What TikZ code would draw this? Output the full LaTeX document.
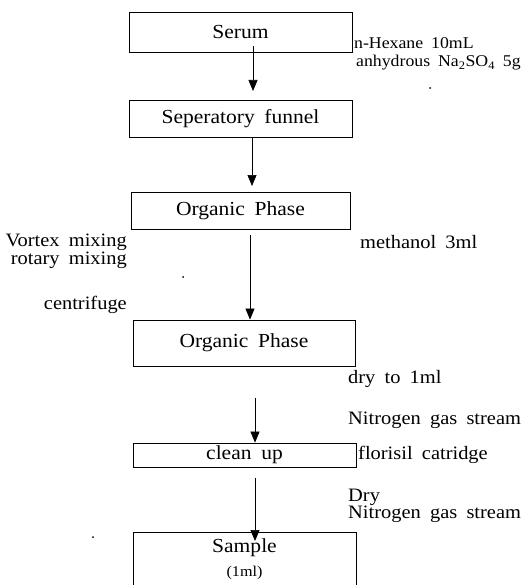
\documentclass[tikz,border=0pt]{standalone}
\usepackage{fontspec}
\setmainfont{Liberation Serif}[WordSpace=1.8,FakeStretch=1.08]
\usetikzlibrary{arrows.meta}
\begin{document}
\begin{tikzpicture}[x=1bp,y=-1bp,
  box/.style={draw, line width=0.8bp, inner sep=0, font=\fontsize{20}{22}\selectfont},
  lbl/.style={inner sep=0, font=\fontsize{19}{21}\selectfont},
  small/.style={lbl, font=\fontsize{16.5}{19}\selectfont},
  flow/.style={-{Triangle[length=11bp,width=9bp]}, line width=0.7bp},
  speck/.style={fill=black, inner sep=0, minimum size=2bp, circle}]
\useasboundingbox (0,0) rectangle (531,585);
\clip (0,0) rectangle (531,585);
% boxes
\node[box, minimum width=223bp, minimum height=40bp] (serum) at (240.5,32) {Serum};
\node[box, minimum width=223bp, minimum height=37bp] (sep) at (240.5,118.5) {Seperatory funnel};
\node[box, minimum width=219bp, minimum height=37bp] (op1) at (240.5,210.5) {Organic Phase};
\node[box, minimum width=222bp, minimum height=46bp] (op2) at (244,343) {Organic Phase};
\node[box, minimum width=223bp, minimum height=24bp] (clean) at (244.5,455) {clean up};
\node[box, minimum width=223bp, minimum height=76bp] (sample) at (244.5,570) {};
\node[lbl, font=\fontsize{20}{22}\selectfont] (sampletxt) at (244.5,548) {Sample};
\node[lbl, font=\fontsize{15}{17}\selectfont] (vol) at (244.5,573) {(1ml)};
% connectors
\coordinate (a1s) at (253,46);
\coordinate (a1e) at (253,91);
\coordinate (a2s) at (252,137);
\coordinate (a2e) at (252,186);
\coordinate (a3s) at (250,235);
\coordinate (a4s) at (255,398);
\coordinate (a5s) at (255,478);
\coordinate (a5e) at (255,541);
\draw[flow] (a1s) -- (a1e);
\draw[flow] (a2s) -- (a2e);
\draw[flow] (a3s) -- (a3s |- op2.north);
\draw[flow] (a4s) -- (a4s |- clean.north);
\draw[flow] (a5s) -- (a5e);
% labels
\node[small, anchor=west] (hex) at (354,43) {n-Hexane 10mL};
\node[small, anchor=west] (na) at (356,63) {anhydrous Na\textsubscript{2}SO\textsubscript{4} 5g};
\node[lbl, anchor=east] (vortex) at (127,242) {Vortex mixing};
\node[lbl, anchor=east] (rotary) at (127,260) {rotary mixing};
\node[lbl, anchor=east] (centri) at (127,305) {centrifuge};
\node[lbl, anchor=west] (meth) at (360,242) {methanol 3ml};
\node[lbl, anchor=west] (dry1) at (348,379) {dry to 1ml};
\node[lbl, anchor=west] (nit1) at (348,420) {Nitrogen gas stream};
\node[lbl, anchor=west] (flor) at (358,455) {florisil catridge};
\node[lbl, anchor=west] (dry2) at (348,497) {Dry};
\node[lbl, anchor=west] (nit2) at (348,514) {Nitrogen gas stream};
% specks
\node[speck] (s1) at (430,88) {};
\node[speck] (s2) at (183,277) {};
\node[speck] (s3) at (93,537) {};
\end{tikzpicture}
\end{document}
